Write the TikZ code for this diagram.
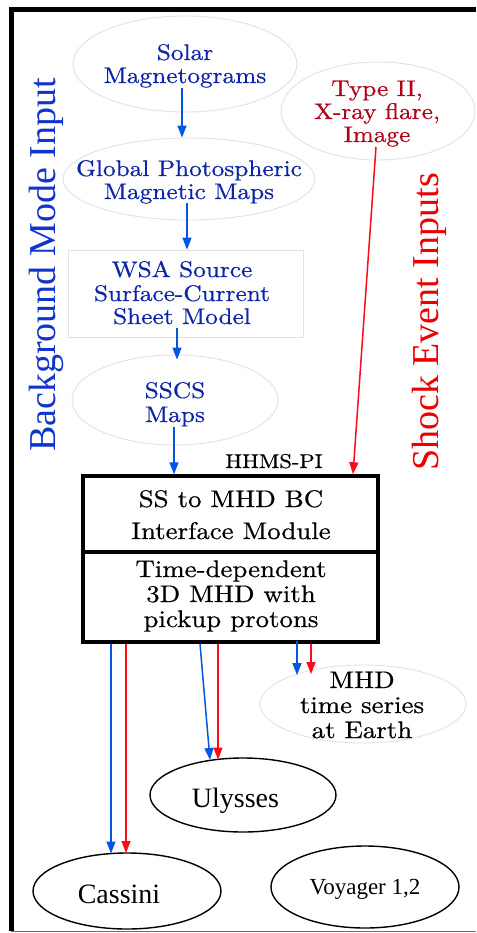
\documentclass[tikz,border=0pt]{standalone}
\usepackage{fontspec}
\usetikzlibrary{arrows.meta,shapes.geometric}
\newfontfamily\schfont{lmroman10-regular.otf}[FakeStretch=1.12,FakeBold=0.6]
\newfontfamily\tmsfont{Liberation Serif}
\definecolor{inblue}{RGB}{14,36,168}
\definecolor{inred}{RGB}{178,0,22}
\definecolor{flowblue}{RGB}{0,86,228}
\definecolor{flowred}{RGB}{250,12,24}
\definecolor{sideblue}{RGB}{16,52,205}
\definecolor{sidered}{RGB}{236,0,0}
\definecolor{faint}{RGB}{226,226,226}
\definecolor{rimgray}{RGB}{110,110,110}
\tikzset{
  softell/.style={ellipse, draw=faint, line width=0.9pt, inner sep=0pt},
  softbox/.style={rectangle, draw=faint, line width=0.9pt, inner sep=0pt},
  craft/.style={ellipse, draw=black, line width=1.4pt, inner sep=0pt},
  modbox/.style={rectangle, draw=black, line width=3.5pt, inner sep=0pt},
  % multi-line texts are placed by the baseline of their last line
  intxt/.style={anchor=base, align=center, inner sep=0pt,
    font=\schfont\fontsize{22.6}{23}\selectfont},
  modtxt/.style={anchor=base, align=center, inner sep=0pt,
    font=\schfont\fontsize{24}{25}\selectfont},
  bflow/.style={draw=flowblue, line width=1.5pt,
    -{Triangle[length=12pt,width=9pt]}},
  rflow/.style={draw=flowred, line width=1.5pt,
    -{Triangle[length=12pt,width=9pt]}},
  sidetxt/.style={anchor=base, rotate=90, inner sep=0pt,
    font=\tmsfont\fontsize{38}{40}\selectfont}
}
\begin{document}
\begin{tikzpicture}[x=1pt,y=-1pt]
\useasboundingbox (0,0) rectangle (476,933);
\fill[white] (0,0) rectangle (476,933);

% outer frame
\draw[line width=5pt] (11,931) -- (11,10) -- (476,10);
\draw[rimgray, line width=1.6pt] (11,931.5) -- (476,931.5);

% background-mode chain
\node[softell, minimum width=224, minimum height=96] (sm) at (185,64) {};
\node[intxt, text=inblue] (smt) at (185,83) {Solar\\Magnetograms};
\node[softell, minimum width=252, minimum height=82] (gpm) at (189,179) {};
\node[intxt, text=inblue] (gpmt) at (189,199) {Global Photospheric\\Magnetic Maps};
\node[softbox, minimum width=235, minimum height=87] (wsa) at (185.5,293.5) {};
\node[intxt, text=inblue] (wsat) at (182,324) {WSA Source\\[1pt]Surface-Current\\Sheet Model};
\node[softell, minimum width=206, minimum height=90] (sscs) at (175,400) {};
\node[intxt, text=inblue] (sscst) at (175,422) {SSCS\\[1pt]Maps};

% shock-event input
\node[softell, minimum width=194, minimum height=98] (typ) at (378,111) {};
\node[intxt, text=inred] (typt) at (377,142) {Type II,\\X-ray flare,\\Image};

% side captions
\node[sidetxt, text=sideblue] (bgcap) at (55,265) {Background Mode Input};
\node[sidetxt, text=sidered] (shcap) at (438,322) {Shock Event Inputs};

% HHMS-PI module
\node[modbox, minimum width=295, minimum height=76] (bc) at (230.5,514) {};
\node[modbox, minimum width=295, minimum height=90] (mhd3d) at (230.5,597) {};
\node[modtxt] (bct) at (231,539) {SS to MHD BC\\[7pt]Interface Module};
\node[modtxt] (mhdt) at (231,627) {Time-dependent\\3D MHD with\\pickup protons};
\node[anchor=base, inner sep=0pt, font=\schfont\fontsize{20}{22}\selectfont]
  (hhms) at (274,468) {HHMS-PI};

% outputs
\node[softell, minimum width=206, minimum height=78] (ts) at (363,704) {};
\node[modtxt] (tst) at (362,738) {MHD\\time series\\at Earth};
\node[craft, minimum width=186, minimum height=74] (uly) at (243,795) {};
\node[anchor=base, inner sep=0pt, font=\tmsfont\fontsize{28}{30}\selectfont]
  (ulyt) at (235.5,807) {Ulysses};
\node[craft, minimum width=188, minimum height=76] (cas) at (127,891) {};
\node[anchor=base, inner sep=0pt, font=\tmsfont\fontsize{28}{30}\selectfont]
  (cast) at (119,903) {Cassini};
\node[craft, minimum width=188, minimum height=82] (voy) at (365,887) {};
\node[anchor=base, inner sep=0pt, font=\tmsfont\fontsize{23}{25}\selectfont]
  (voyt) at (365,894) {Voyager 1,2};

% input connectors
\draw[bflow] ([xshift=-3pt,yshift=-24pt]sm.center) -- ([xshift=-7pt]gpm.north);
\draw[bflow] ([xshift=-2pt,yshift=-24pt]gpm.center) -- ([xshift=1.5pt]wsa.north);
\draw[bflow] ([xshift=-8.5pt,yshift=-34.5pt]wsa.center) -- ([xshift=2pt,yshift=-5pt]sscs.north);
\draw[bflow] ([xshift=-1pt,yshift=-27pt]sscs.center) -- ([xshift=-56.5pt]bc.north);
\draw[rflow] ([xshift=-2pt,yshift=-36pt]typ.center) -- ([xshift=122.5pt]bc.north);

% output connectors
\draw[bflow] ([xshift=-119.5pt]mhd3d.south) -- ([xshift=-16pt,yshift=37.5pt]cas.center);
\draw[rflow] ([xshift=-104.5pt]mhd3d.south) -- ([xshift=-1pt,yshift=38pt]cas.center);
\draw[bflow] ([xshift=-30.5pt]mhd3d.south) -- ([xshift=-33pt,yshift=35pt]uly.center);
\draw[rflow] ([xshift=-12.5pt]mhd3d.south) -- ([xshift=-25pt,yshift=35.5pt]uly.center);
\draw[bflow] ([xshift=66.5pt,yshift=3pt]mhd3d.south) -- ([xshift=-66pt,yshift=29pt]ts.center);
\draw[rflow] ([xshift=80.5pt]mhd3d.south) -- ([xshift=-52pt,yshift=30pt]ts.center);
\end{tikzpicture}
\end{document}
